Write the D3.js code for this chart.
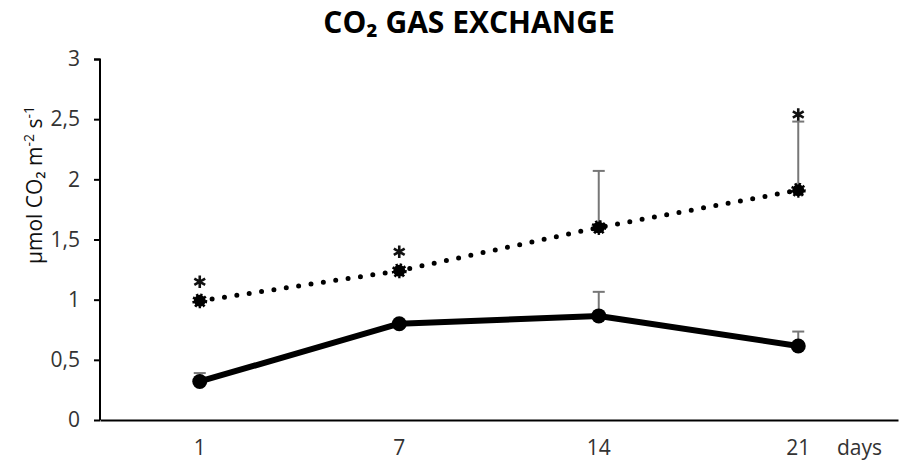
<!DOCTYPE html>
<html>
<head>
<meta charset="utf-8">
<script src="https://cdn.jsdelivr.net/npm/d3@7"></script>
<style>
  body { margin: 0; background: #fff; }
  text { font-family: "Open Sans", "Liberation Sans", sans-serif; }
</style>
</head>
<body>
<div id="chart"></div>
<script>
var days = ["1", "7", "14", "21"];
var yTicks = [0, 0.5, 1, 1.5, 2, 2.5, 3];
var solidValues = [0.32, 0.80, 0.865, 0.615];
var solidErrors = [0.07, 0.0, 0.20, 0.12];
var dottedValues = [0.99, 1.24, 1.60, 1.91];
var dottedErrors = [0.0, 0.0, 0.47, 0.57];
var starred = [true, true, false, true];

function drawChart() {
    var svgWidth = 899, svgHeight = 472;
    var margin = { top: 59, right: 1, bottom: 52, left: 100 };
    var width = svgWidth - margin.left - margin.right;
    var height = svgHeight - margin.top - margin.bottom;

    var svg = d3.select("#chart").append("svg")
        .attr("width", svgWidth)
        .attr("height", svgHeight);

    var g = svg.append("g")
        .attr("transform", "translate(" + margin.left + "," + margin.top + ")");

    var x = d3.scaleBand().domain(days).range([0, width]);
    var y = d3.scaleLinear().domain([0, 3]).range([height, 0]);
    var cx = function(i) { return x(days[i]) + x.bandwidth() / 2; };

    // title
    svg.append("text")
        .attr("x", 469)
        .attr("y", 33)
        .attr("text-anchor", "middle")
        .style("font-size", "30px")
        .style("font-weight", "bold")
        .text("CO\u2082 GAS EXCHANGE");

    // y axis
    var yAxis = g.append("g")
        .call(d3.axisLeft(y).tickValues(yTicks).tickSize(6).tickPadding(14)
            .tickFormat(function(d) { return String(d).replace(".", ","); }));
    yAxis.select(".domain").attr("stroke", "#000").attr("stroke-width", 2).attr("d", "M-6,0.5H0V" + height);
    yAxis.selectAll(".tick line").attr("stroke", "#000").attr("stroke-width", 2);
    yAxis.selectAll(".tick text").style("font-size", "21px").attr("fill", "#333")
        .style("font-family", "'Open Sans', sans-serif");

    // x axis
    var xAxis = g.append("g")
        .attr("transform", "translate(0," + height + ")")
        .call(d3.axisBottom(x).tickSize(0).tickPadding(20));
    xAxis.select(".domain").attr("stroke", "#000").attr("stroke-width", 2);
    xAxis.selectAll(".tick text").style("font-size", "21px").attr("fill", "#333")
        .style("font-family", "'Open Sans', sans-serif");

    g.append("text")
        .attr("x", width - 61)
        .attr("y", height + 35)
        .style("font-size", "21px")
        .attr("fill", "#333")
        .text("days");

    // y label
    var yl = svg.append("text")
        .attr("transform", "translate(42,185) rotate(-90)")
        .attr("text-anchor", "middle")
        .style("font-size", "21px")
        .attr("fill", "#111");
    yl.append("tspan").text("\u03BCmol CO\u2082 m");
    yl.append("tspan").attr("dy", -8).style("font-size", "14px").text("-2");
    yl.append("tspan").attr("dy", 8).text(" s");
    yl.append("tspan").attr("dy", -8).style("font-size", "14px").text("-1");

    // error bars
    function errorBars(values, errors) {
        values.forEach(function(v, i) {
            if (errors[i] <= 0) return;
            var top = y(v + errors[i]);
            g.append("line").attr("x1", cx(i)).attr("x2", cx(i))
                .attr("y1", y(v)).attr("y2", top)
                .attr("stroke", "#777").attr("stroke-width", 2);
            g.append("line").attr("x1", cx(i) - 6).attr("x2", cx(i) + 6)
                .attr("y1", top).attr("y2", top)
                .attr("stroke", "#777").attr("stroke-width", 2);
        });
    }
    errorBars(dottedValues, dottedErrors);
    errorBars(solidValues, solidErrors);

    var line = d3.line()
        .x(function(d, i) { return cx(i); })
        .y(function(d) { return y(d); });

    // dotted series
    g.append("path")
        .attr("d", line(dottedValues))
        .attr("fill", "none")
        .attr("stroke", "#000")
        .attr("stroke-width", 5)
        .attr("stroke-linecap", "round")
        .attr("stroke-dasharray", "0 12.5");

    g.selectAll(".dmark").data(dottedValues).enter().append("circle")
        .attr("class", "dmark")
        .attr("cx", function(d, i) { return cx(i); })
        .attr("cy", function(d) { return y(d); })
        .attr("r", 6)
        .attr("fill", "#000")
        .attr("stroke", "#000")
        .attr("stroke-width", 3)
        .attr("stroke-dasharray", "2.2 1.8");

    // solid series
    g.append("path")
        .attr("d", line(solidValues))
        .attr("fill", "none")
        .attr("stroke", "#000")
        .attr("stroke-width", 6)
        .attr("stroke-linejoin", "round");

    g.selectAll(".smark").data(solidValues).enter().append("circle")
        .attr("class", "smark")
        .attr("cx", function(d, i) { return cx(i); })
        .attr("cy", function(d) { return y(d); })
        .attr("r", 7.5)
        .attr("fill", "#000");

    // significance stars
    var star = d3.symbol().type(d3.symbolAsterisk).size(110);
    dottedValues.forEach(function(v, i) {
        if (!starred[i]) return;
        var sy = dottedErrors[i] > 0 ? y(v + dottedErrors[i]) - 7 : y(v) - 19;
        g.append("path")
            .attr("d", star())
            .attr("transform", "translate(" + cx(i) + "," + sy + ")")
            .attr("fill", "none")
            .attr("stroke", "#111")
            .attr("stroke-width", 2.6);
    });
}
drawChart();
</script>
</body>
</html>
